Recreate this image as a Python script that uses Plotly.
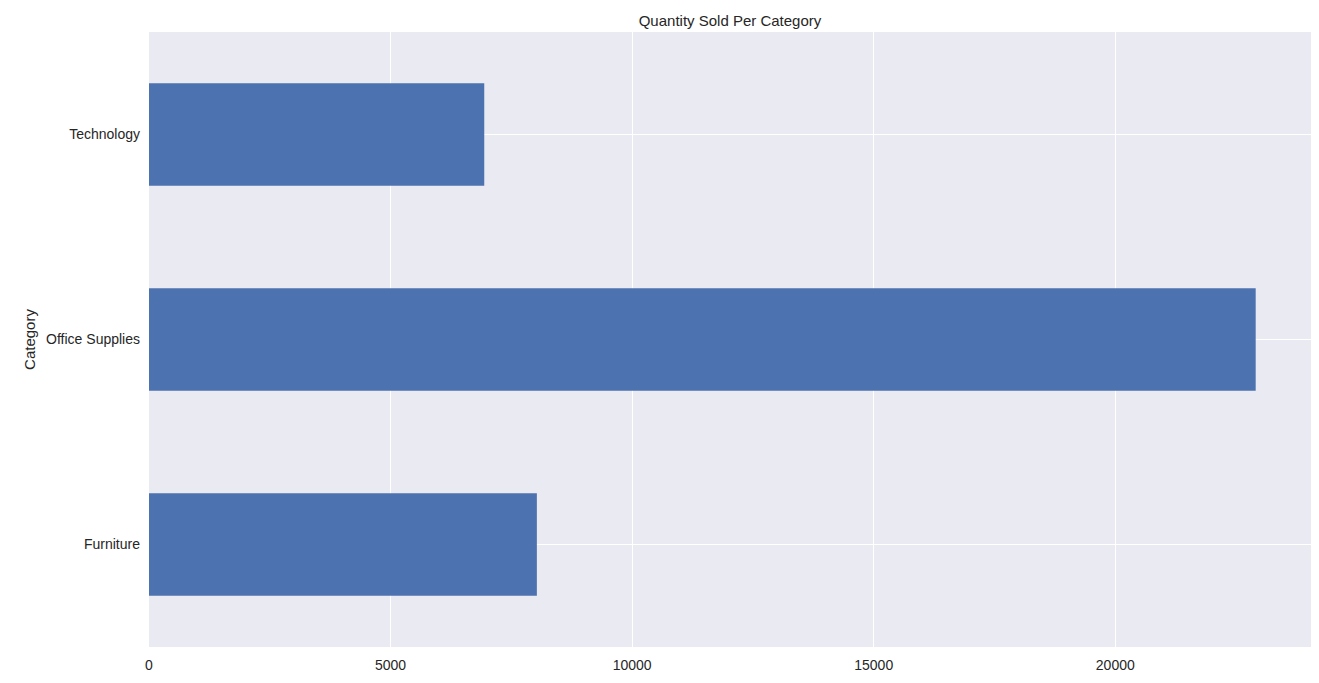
import plotly.graph_objects as go

categories = ["Furniture", "Office Supplies", "Technology"]
quantity = [8028, 22906, 6939]
xticks = [0, 5000, 10000, 15000, 20000]
xticklabels = ["0", "5000", "10000", "15000", "20000"]

fig = go.Figure(go.Bar(x=quantity, y=categories, orientation="h", width=0.5,
                       marker=dict(color="#4C72B0", line=dict(width=0))))
fig.update_layout(
    width=1319, height=683,
    margin=dict(l=141, r=16, t=24, b=44),
    paper_bgcolor="white", plot_bgcolor="#EAEAF2",
    font=dict(family="Liberation Sans, Arial", size=14, color="#262626"),
    title=dict(text="Quantity Sold Per Category", x=0.5, xref="paper", y=1, yref="paper",
               yanchor="bottom", pad=dict(b=6), font=dict(size=15)),
    showlegend=False,
)
fig.update_xaxes(range=[0, 24051], tickvals=xticks, ticktext=xticklabels,
                 gridcolor="white", gridwidth=1.3, zeroline=False, showline=False,
                 ticks="", ticklabelstandoff=8)
fig.update_yaxes(range=[-0.5, 2.5], gridcolor="white", gridwidth=1.3, showline=False,
                 ticks="", title=dict(text="Category", standoff=6, font=dict(size=15)),
                 ticklabelstandoff=8)
fig.write_html("out.html")
